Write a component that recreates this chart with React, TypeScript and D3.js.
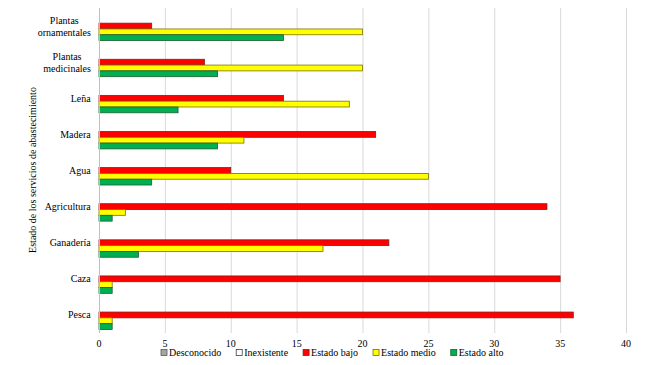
import {useEffect, useRef} from "react";
import * as d3 from "d3";

const categories = ["Plantas\nornamentales", "Plantas\nmedicinales", "Leña", "Madera", "Agua", "Agricultura", "Ganadería", "Caza", "Pesca"];
const seriesNames = ["Desconocido", "Inexistente", "Estado bajo", "Estado medio", "Estado alto"];
const desconocido = [0, 0, 0, 0, 0, 0, 0, 0, 0];
const inexistente = [0, 0, 0, 0, 0, 0, 0, 0, 0];
const estadoBajo = [4, 8, 14, 21, 10, 34, 22, 35, 36];
const estadoMedio = [20, 20, 19, 11, 25, 2, 17, 1, 1];
const estadoAlto = [14, 9, 6, 9, 4, 1, 3, 1, 1];
const xTicks = [0, 5, 10, 15, 20, 25, 30, 35, 40];
const yTitle = "Estado de los servicios de abastecimiento";

const fills = ["#a5a5a5", "#ffffff", "#ff0000", "#ffff00", "#00b050"];
const strokes = ["#595959", "#404040", "#8b1a1a", "#7a7000", "#1e5c32"];

export default function App() {
    const svgRef = useRef<SVGSVGElement>(null);

    useEffect(() => {
        if (!svgRef.current) return;
        const svg = d3.select(svgRef.current);
        svg.selectAll("*").remove();

        const font = "'Liberation Serif', 'DejaVu Serif', serif";
        const allSeries = [desconocido, inexistente, estadoBajo, estadoMedio, estadoAlto];

        const x = d3.scaleLinear().domain([0, 40]).range([99, 626]);
        const y = d3.scaleBand().domain(categories).range([8, 333]);
        const inner = d3.scaleBand().domain(seriesNames).range([0, y.bandwidth()]).paddingInner(0).paddingOuter(0.61);

        // gridlines
        svg.append("g")
            .selectAll("line")
            .data(xTicks.slice(1))
            .join("line")
            .attr("x1", d => x(d) + 0.5).attr("x2", d => x(d) + 0.5)
            .attr("y1", 8).attr("y2", 333)
            .attr("stroke", "#d9d9d9").attr("stroke-width", 1);

        // bars
        allSeries.forEach((vals, si) => {
            svg.append("g")
                .selectAll("rect")
                .data(vals)
                .join("rect")
                .attr("x", x(0))
                .attr("y", (d, i) => y(categories[i])! + inner(seriesNames[si])!)
                .attr("width", d => x(d) - x(0))
                .attr("height", inner.bandwidth())
                .attr("fill", fills[si])
                .attr("stroke", d => d > 0 ? strokes[si] : "none")
                .attr("stroke-width", 0.8);
        });

        // vertical axis line
        svg.append("line")
            .attr("x1", x(0) + 0.5).attr("x2", x(0) + 0.5)
            .attr("y1", 8).attr("y2", 333)
            .attr("stroke", "#bfbfbf");

        const g = svg.append("g").style("font-family", font).style("font-size", "10px").attr("fill", "#000");

        // x tick labels
        g.append("g")
            .selectAll("text")
            .data(xTicks)
            .join("text")
            .attr("x", d => x(d))
            .attr("y", 347)
            .attr("text-anchor", "middle")
            .text(d => d);

        // category labels
        categories.forEach(c => {
            const lines = c.split("\n");
            const cy = y(c)! + y.bandwidth() / 2;
            const t = g.append("text")
                .attr("y", cy - (lines.length - 1) * 6 + 3.5);
            lines.forEach((ln, i) => {
                t.append("tspan").attr("x", 0).attr("dy", i === 0 ? 0 : 12).text(ln);
            });
            // right-align the block, center lines within it
            const w = (t.node() as SVGTextElement).getBBox().width;
            t.selectAll("tspan").attr("x", 91 - w / 2).attr("text-anchor", "middle");
        });

        // y title
        g.append("text")
            .attr("transform", `translate(36,${170}) rotate(-90)`)
            .attr("text-anchor", "middle")
            .text(yTitle);

        // legend
        let lx = 161;
        seriesNames.forEach((name, i) => {
            svg.append("rect")
                .attr("x", lx).attr("y", 349.5).attr("width", 6).attr("height", 6)
                .attr("fill", fills[i]).attr("stroke", strokes[i]).attr("stroke-width", 0.8);
            const t = g.append("text")
                .attr("x", lx + 8).attr("y", 356)
                .text(name);
            lx += 8 + (t.node() as SVGTextElement).getComputedTextLength() + 15;
        });
    }, []);

    return (
        <svg ref={svgRef} width={650} height={365}
             style={{position: "absolute", left: 0, top: 0, background: "#fff"}}></svg>
    );
}
